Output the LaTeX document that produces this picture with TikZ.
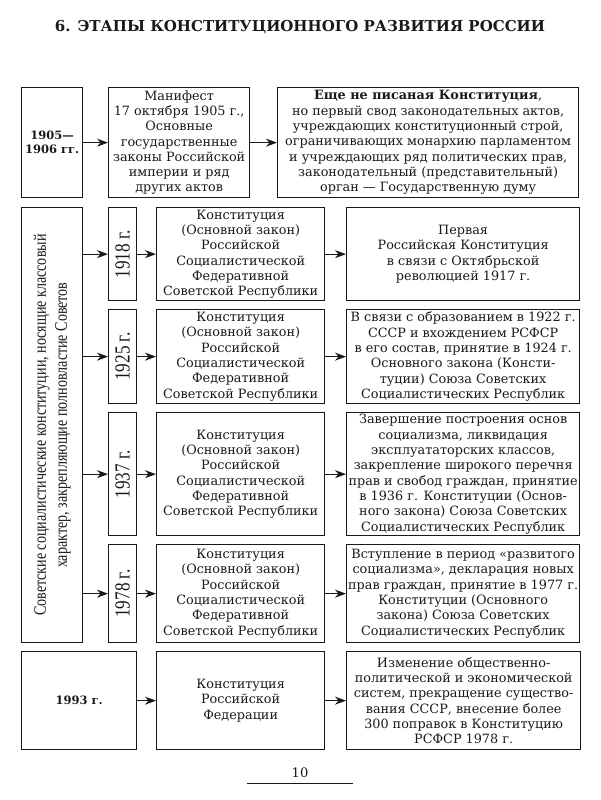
\documentclass[tikz,border=0pt]{standalone}
\usepackage{fontspec}
\setmainfont{DejaVu Serif}
\newfontfamily\condserif[FakeStretch=0.8]{Liberation Serif}
\usepackage{graphicx}
\usetikzlibrary{arrows.meta,positioning}
\definecolor{inkblack}{RGB}{25,25,25}

\begin{document}
\begin{tikzpicture}[x=1pt, y=-1pt,
  every node/.style={inner sep=0pt, text=inkblack},
  box/.style={draw=inkblack, line width=1.3pt, anchor=north west, align=center, font=\fontsize{12.8}{15.3}\selectfont},
  yearbox/.style={box, font=\condserif\fontsize{21.5}{24}\selectfont},
  link/.style={draw=inkblack, line width=1.3pt, -{Stealth[length=11pt, width=8pt, inset=3.5pt]}}
]
  \useasboundingbox (0,0) rectangle (600,800);

  \node[font=\bfseries\fontsize{15}{18}\selectfont] (title) at (300,27) {6. ЭТАПЫ КОНСТИТУЦИОННОГО РАЗВИТИЯ РОССИИ};

  % 1905--1906
  \node[box, minimum width=61, minimum height=110, font=\bfseries\fontsize{11.5}{14}\selectfont] (y1905) at (21,87) {1905—\\1906 гг.};
  \node[box, minimum width=141, minimum height=110] (manifest) at (108,87)
    {Манифест\\17 октября 1905 г.,\\Основные\\государственные\\законы Российской\\империи и ряд\\других актов};
  \node[box, minimum width=301, minimum height=110] (unwritten) at (277,87)
    {\textbf{Еще не писаная Конституция},\\но первый свод законодательных актов,\\учреждающих конституционный строй,\\ограничивающих монархию парламентом\\и учреждающих ряд политических прав,\\законодательный (представительный)\\орган — Государственную думу};
  \draw[link] (y1905) -- (manifest);
  \draw[link] (manifest) -- (unwritten);

  % soviet constitutions
  \node[box, minimum width=61, minimum height=435] (soviet) at (21,207)
    {\rotatebox{90}{\condserif\fontsize{17.6}{21}\selectfont\begin{tabular}{@{}c@{}}Советские социалистические конституции, носящие классовый\\характер, закрепляющие полновластие Советов\end{tabular}}};

  \node[yearbox, minimum width=28, minimum height=93] (y1918) at (108,207) {\rotatebox{90}{1918 г.}};
  \node[yearbox, minimum width=28, minimum height=94] (y1925) at (108,309) {\rotatebox{90}{1925 г.}};
  \node[yearbox, minimum width=28, minimum height=123] (y1937) at (108,412) {\rotatebox{90}{1937 г.}};
  \node[yearbox, minimum width=28, minimum height=98] (y1978) at (108,544) {\rotatebox{90}{1978 г.}};

  \node[box, minimum width=168, minimum height=93] (c1918) at (156,207)
    {Конституция\\(Основной закон)\\Российской\\Социалистической\\Федеративной\\Советской Республики};
  \node[box, minimum width=168, minimum height=94] (c1925) at (156,309)
    {Конституция\\(Основной закон)\\Российской\\Социалистической\\Федеративной\\Советской Республики};
  \node[box, minimum width=168, minimum height=123] (c1937) at (156,412)
    {Конституция\\(Основной закон)\\Российской\\Социалистической\\Федеративной\\Советской Республики};
  \node[box, minimum width=168, minimum height=98] (c1978) at (156,544)
    {Конституция\\(Основной закон)\\Российской\\Социалистической\\Федеративной\\Советской Республики};

  \node[box, minimum width=233, minimum height=93] (r1918) at (346,207)
    {Первая\\Российская Конституция\\в связи с Октябрьской\\революцией 1917 г.};
  \node[box, minimum width=233, minimum height=94] (r1925) at (346,309)
    {В связи с образованием в 1922 г.\\СССР и вхождением РСФСР\\в его состав, принятие в 1924 г.\\Основного закона (Консти-\\туции) Союза Советских\\Социалистических Республик};
  \node[box, minimum width=233, minimum height=123] (r1937) at (346,412)
    {Завершение построения основ\\социализма, ликвидация\\эксплуататорских классов,\\закрепление широкого перечня\\прав и свобод граждан, принятие\\в 1936 г. Конституции (Основ-\\ного закона) Союза Советских\\Социалистических Республик};
  \node[box, minimum width=233, minimum height=98] (r1978) at (346,544)
    {Вступление в период «развитого\\социализма», декларация новых\\прав граждан, принятие в 1977 г.\\Конституции (Основного\\закона) Союза Советских\\Социалистических Республик};

  \foreach \yr in {1918,1925,1937,1978} {
    \draw[link] (soviet.east |- y\yr.west) -- (y\yr.west);
    \draw[link] (y\yr) -- (c\yr);
    \draw[link] (c\yr) -- (r\yr);
  }

  % 1993
  \node[box, minimum width=115, minimum height=98, font=\bfseries\fontsize{11.5}{14}\selectfont] (y1993) at (21,651) {1993 г.};
  \node[box, minimum width=168, minimum height=98] (c1993) at (156,651)
    {Конституция\\Российской\\Федерации};
  \node[box, minimum width=234, minimum height=98] (r1993) at (346,651)
    {Изменение общественно-\\политической и экономической\\систем, прекращение существо-\\вания СССР, внесение более\\300 поправок в Конституцию\\РСФСР 1978 г.};
  \draw[link] (y1993) -- (c1993);
  \draw[link] (c1993) -- (r1993);

  % page number
  \node[font=\fontsize{13}{15}\selectfont] (pagenum) at (300,773) {10};
  \coordinate (ruleL) at (247,783);
  \coordinate (ruleR) at (353,783);
  \draw[inkblack, line width=0.9pt] (ruleL) -- (ruleR);
\end{tikzpicture}
\end{document}
